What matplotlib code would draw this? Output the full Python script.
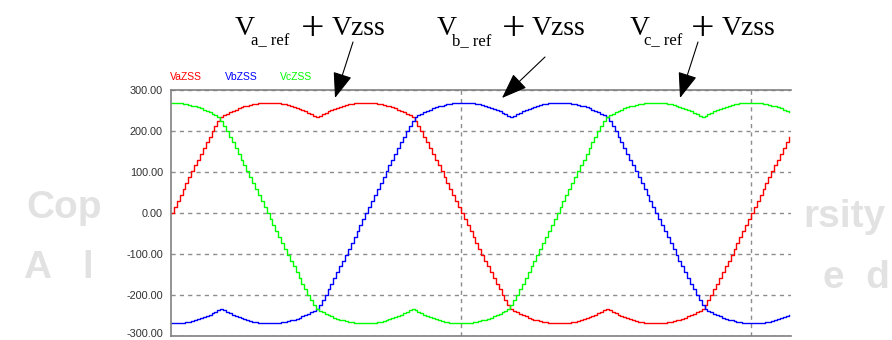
import matplotlib
matplotlib.use("Agg")
import matplotlib.pyplot as plt
import matplotlib.transforms as mtransforms
from matplotlib.patches import Rectangle, FancyArrowPatch

W, H = 892, 340

# sampled phase voltages with zero-sequence injection (one sample every 0.1 ms)
sample_ms = 0.1

va_zss = [
    0, 15, 29, 44, 58, 73, 87, 102, 116, 130, 144, 158, 172, 185, 199, 212, 225, 235, 239, 242, 246, 249, 252, 255, 258,
    260, 262, 264, 266, 267, 268, 269, 269, 269, 269, 269, 268, 268, 266, 265, 263, 262, 259, 257, 254, 251, 248, 245, 241, 237, 233,
    237, 241, 245, 248, 251, 254, 257, 259, 262, 263, 265, 266, 268, 268, 269, 269, 269, 269, 269, 268, 267, 266, 264, 262, 260,
    258, 255, 252, 249, 246, 242, 239, 235, 225, 212, 199, 185, 172, 158, 144, 130, 116, 102, 87, 73, 58, 44, 29, 15, 0,
    -15, -29, -44, -58, -73, -87, -102, -116, -130, -144, -158, -172, -185, -199, -212, -225, -235, -239, -242, -246, -249, -252, -255, -258,
    -260, -262, -264, -266, -267, -268, -269, -269, -269, -269, -269, -268, -268, -266, -265, -263, -262, -259, -257, -254, -251, -248, -245, -241, -237, -233,
    -237, -241, -245, -248, -251, -254, -257, -259, -262, -263, -265, -266, -268, -268, -269, -269, -269, -269, -269, -268, -267, -266, -264, -262,
    -260, -258, -255, -252, -249, -246, -242, -239, -235, -225, -212, -199, -185, -172, -158, -144, -130, -116, -102, -87, -73, -58, -44, -29, -15,
    0, 15, 29, 44, 58, 73, 87, 102, 116, 130, 144, 158, 172, 185,
]

vb_zss = [
    -269, -269, -269, -268, -268, -266, -265, -263, -262, -259, -257, -254, -251, -248, -245, -241, -237, -233,
    -237, -241, -245, -248, -251, -254, -257, -259, -262, -263, -265, -266, -268, -268, -269, -269, -269, -269, -269, -268, -267, -266, -264, -262,
    -260, -258, -255, -252, -249, -246, -242, -239, -235, -225, -212, -199, -185, -172, -158, -144, -130, -116, -102, -87, -73, -58, -44, -29, -15,
    0, 15, 29, 44, 58, 73, 87, 102, 116, 130, 144, 158, 172, 185, 199, 212, 225, 235, 239, 242, 246, 249, 252, 255, 258,
    260, 262, 264, 266, 267, 268, 269, 269, 269, 269, 269, 268, 268, 266, 265, 263, 262, 259, 257, 254, 251, 248, 245, 241, 237, 233,
    237, 241, 245, 248, 251, 254, 257, 259, 262, 263, 265, 266, 268, 268, 269, 269, 269, 269, 269, 268, 267, 266, 264, 262, 260,
    258, 255, 252, 249, 246, 242, 239, 235, 225, 212, 199, 185, 172, 158, 144, 130, 116, 102, 87, 73, 58, 44, 29, 15, 0,
    -15, -29, -44, -58, -73, -87, -102, -116, -130, -144, -158, -172, -185, -199, -212, -225, -235, -239, -242, -246, -249, -252, -255, -258,
    -260, -262, -264, -266, -267, -268, -269, -269, -269, -269, -269, -268, -268, -266, -265, -263, -262, -259, -257, -254, -251, -248,
]

vc_zss = [
    269, 269, 269, 268, 267, 266, 264, 262, 260, 258, 255, 252, 249, 246, 242, 239, 235,
    225, 212, 199, 185, 172, 158, 144, 130, 116, 102, 87, 73, 58, 44, 29, 15, 0,
    -15, -29, -44, -58, -73, -87, -102, -116, -130, -144, -158, -172, -185, -199, -212, -225, -235, -239, -242, -246, -249, -252, -255, -258,
    -260, -262, -264, -266, -267, -268, -269, -269, -269, -269, -269, -268, -268, -266, -265, -263, -262, -259, -257, -254, -251, -248, -245, -241, -237, -233,
    -237, -241, -245, -248, -251, -254, -257, -259, -262, -263, -265, -266, -268, -268, -269, -269, -269, -269, -269, -268, -267, -266, -264, -262,
    -260, -258, -255, -252, -249, -246, -242, -239, -235, -225, -212, -199, -185, -172, -158, -144, -130, -116, -102, -87, -73, -58, -44, -29, -15,
    0, 15, 29, 44, 58, 73, 87, 102, 116, 130, 144, 158, 172, 185, 199, 212, 225, 235, 239, 242, 246, 249, 252, 255, 258,
    260, 262, 264, 266, 267, 268, 269, 269, 269, 269, 269, 268, 268, 266, 265, 263, 262, 259, 257, 254, 251, 248, 245, 241, 237, 233,
    237, 241, 245, 248, 251, 254, 257, 259, 262, 263, 265, 266, 268, 268, 269, 269, 269, 269, 269, 268, 267, 266, 264, 262, 260,
    258, 255, 252, 249, 246,
]

series_names = ["VaZSS", "VbZSS", "VcZSS"]
series_colors = ["#ff0000", "#0000ff", "#00ff00"]
y_ticks = [300, 200, 100, 0, -100, -200, -300]
x_grid_ms = [10, 20]
x_end_ms = 21.38

annot_subs = ["a_ ref", "b_ ref", "c_ ref"]


def px(x, y):
    # image pixel (top-left origin) -> figure fraction
    return x / W, 1 - y / H


fig = plt.figure(figsize=(W / 100, H / 100), dpi=100)

# faint watermark fragments around the chart
wm = dict(color="#e2e2e2", fontsize=28, fontweight="bold", family="Liberation Sans", zorder=0)
fig.text(*px(26, 218), "Cop", **wm)
fig.text(*px(886, 227), "rsity", ha="right", **wm)
fig.text(*px(24, 278), "A   l", **wm)
fig.text(*px(890, 288), "e  d", ha="right", **wm)
fig.add_artist(Rectangle(px(150, 340), 645 / W, 283 / H, transform=fig.transFigure,
                         facecolor="white", edgecolor="none", zorder=0.5))

ax = fig.add_axes([171 / W, 4 / H, 620 / W, 246 / H])
ax.set_zorder(1)
ax.set_facecolor("white")

for vals, name, col in zip([va_zss, vb_zss, vc_zss], series_names, series_colors):
    t = [i * sample_ms for i in range(len(vals))]
    ax.plot(t, vals, drawstyle="steps-post", color=col, lw=1.0, label=name)

ax.set_xlim(0, x_end_ms)
ax.set_ylim(-300, 300)
ax.set_yticks(y_ticks)
ax.set_yticklabels([])
ax.set_xticks(x_grid_ms)
ax.set_xticklabels([])
ax.tick_params(axis="both", length=0)
ax.grid(True, color="#8c8c8c", linestyle=(0, (3, 3)), linewidth=1.0)
for s in ["left", "top", "bottom"]:
    ax.spines[s].set_color("#808080")
    ax.spines[s].set_linewidth(1.2)
ax.spines["right"].set_visible(False)

# y tick labels drawn by hand so the bottom one can sit a little higher
lab_tr = ax.get_yaxis_transform() + mtransforms.ScaledTranslation(-8 / 100, 0, fig.dpi_scale_trans)
for v in y_ticks:
    tr = lab_tr
    if v == y_ticks[-1]:
        tr = lab_tr + mtransforms.ScaledTranslation(0, 3 / 100, fig.dpi_scale_trans)
    ax.text(0, v, f"{v:.2f}", transform=tr, ha="right", va="center_baseline",
            fontsize=7.8, family="Liberation Sans", color="#303030", clip_on=False)

# legend labels above the plot
for name, col, x in zip(series_names, series_colors, [170, 225, 280]):
    fig.text(*px(x, 77), name, color=col, fontsize=7.5, family="Liberation Sans", va="center")

# annotations: V_x_ref + Vzss with arrows
serif = "Liberation Serif"
v_left = [235, 437, 630]
sub_left = [251, 452, 644]
plus_cx = [313, 514, 703]
vzss_left = [332, 532, 722]
arrow_from = [(353, 42), (545, 57), (698, 42)]
arrow_to = [(335, 98), (502, 98), (680, 98)]
for i in range(3):
    fig.text(*px(v_left[i], 35), "V", fontsize=20, family=serif)
    fig.text(*px(sub_left[i], 45), annot_subs[i], fontsize=12, family=serif)
    fig.text(*px(plus_cx[i], 40), "+", fontsize=30, family=serif, ha="center", va="baseline")
    fig.text(*px(vzss_left[i], 35), "Vzss", fontsize=20, family=serif)
    arr = FancyArrowPatch(px(*arrow_from[i]), px(*arrow_to[i]), transform=fig.transFigure,
                          arrowstyle="-|>,head_length=0.8,head_width=0.3", mutation_scale=20,
                          color="black", lw=0.8, shrinkA=0, shrinkB=0, zorder=5)
    fig.add_artist(arr)

fig.savefig("out.png", dpi=100)
